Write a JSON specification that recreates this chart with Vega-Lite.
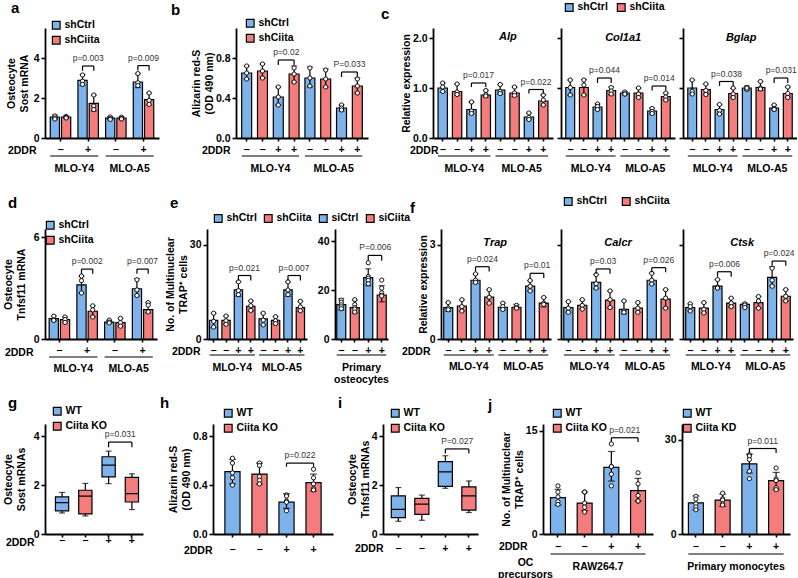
{
  "$schema": "https://vega.github.io/schema/vega-lite/v6.json",
  "padding": {"left": 3, "top": 1, "right": 0, "bottom": 0},
  "autosize": {"type": "pad"},
  "config": {
    "font": "Liberation Sans",
    "view": {"stroke": null},
    "bar": {"stroke": "black", "strokeWidth": 1.2},
    "rule": {"color": "black", "strokeWidth": 1.2},
    "tick": {"color": "black", "thickness": 1.2},
    "line": {"color": "black", "strokeWidth": 1.2},
    "text": {"font": "Liberation Sans", "color": "black"},
    "axis": {"domainColor": "black", "domainWidth": 1.8, "tickColor": "black", "tickWidth": 1.6, "tickSize": 4, "labelColor": "black", "labelFont": "Liberation Sans", "labelFontWeight": "bold", "labelFontSize": 10.5, "labelPadding": 2, "titleColor": "black", "titleFont": "Liberation Sans", "titleFontWeight": "bold", "titleFontSize": 10.5, "titleLineHeight": 12.5, "grid": false, "labelAngle": 0},
    "axisX": {"tickSize": 3},
    "legend": {"symbolType": "square", "symbolSize": 60, "symbolStrokeColor": "black", "symbolStrokeWidth": 1.2, "labelFont": "Liberation Sans", "labelFontWeight": "bold", "labelFontSize": 10.5, "labelColor": "black", "rowPadding": 1, "columnPadding": 8, "padding": 0, "labelOffset": 3},
    "title": {"font": "Liberation Sans", "fontSize": 15, "fontWeight": "bold", "color": "black", "anchor": "start", "frame": "group", "baseline": "alphabetic", "offset": 0}
  },
  "datasets": {
    "a_bar": [
      {"c": 1, "g": "shCtrl", "m": 1.05, "lo": 0.95, "hi": 1.15}, {"c": 1, "g": "shCiita", "m": 1.05, "lo": 1.0, "hi": 1.1},
      {"c": 2, "g": "shCtrl", "m": 2.88, "lo": 2.62, "hi": 3.16}, {"c": 2, "g": "shCiita", "m": 1.73, "lo": 1.35, "hi": 2.15},
      {"c": 3, "g": "shCtrl", "m": 0.99, "lo": 0.92, "hi": 1.07}, {"c": 3, "g": "shCiita", "m": 1.0, "lo": 0.94, "hi": 1.06},
      {"c": 4, "g": "shCtrl", "m": 2.8, "lo": 2.52, "hi": 3.22}, {"c": 4, "g": "shCiita", "m": 1.92, "lo": 1.66, "hi": 2.25}
    ],
    "a_pt": [
      {"c": 1, "g": "shCtrl", "v": 1.1}, {"c": 1, "g": "shCtrl", "v": 1.0}, {"c": 1, "g": "shCtrl", "v": 0.95},
      {"c": 1, "g": "shCiita", "v": 1.08}, {"c": 1, "g": "shCiita", "v": 1.02}, {"c": 1, "g": "shCiita", "v": 1.0},
      {"c": 2, "g": "shCtrl", "v": 3.15}, {"c": 2, "g": "shCtrl", "v": 2.84}, {"c": 2, "g": "shCtrl", "v": 2.68},
      {"c": 2, "g": "shCiita", "v": 2.15}, {"c": 2, "g": "shCiita", "v": 1.6}, {"c": 2, "g": "shCiita", "v": 1.42},
      {"c": 3, "g": "shCtrl", "v": 1.05}, {"c": 3, "g": "shCtrl", "v": 0.97}, {"c": 3, "g": "shCtrl", "v": 0.93},
      {"c": 3, "g": "shCiita", "v": 1.04}, {"c": 3, "g": "shCiita", "v": 0.97}, {"c": 3, "g": "shCiita", "v": 0.95},
      {"c": 4, "g": "shCtrl", "v": 3.22}, {"c": 4, "g": "shCtrl", "v": 2.76}, {"c": 4, "g": "shCtrl", "v": 2.62},
      {"c": 4, "g": "shCiita", "v": 2.25}, {"c": 4, "g": "shCiita", "v": 1.88}, {"c": 4, "g": "shCiita", "v": 1.68}
    ],
    "a_br": [
      {"c": 2, "g": "shCtrl", "t": 3.6, "b": 3.36, "lab": "p=0.003"}, {"c": 2, "g": "shCiita", "t": 3.6, "b": 3.36},
      {"c": 4, "g": "shCtrl", "t": 3.62, "b": 3.38, "lab": "p=0.009"}, {"c": 4, "g": "shCiita", "t": 3.62, "b": 3.38}
    ],
    "b_bar": [
      {"id": 1, "g": "shCtrl", "m": 0.65, "lo": 0.59, "hi": 0.72}, {"id": 2, "g": "shCiita", "m": 0.67, "lo": 0.6, "hi": 0.74},
      {"id": 3, "g": "shCtrl", "m": 0.41, "lo": 0.33, "hi": 0.51}, {"id": 4, "g": "shCiita", "m": 0.64, "lo": 0.56, "hi": 0.72},
      {"id": 5, "g": "shCtrl", "m": 0.6, "lo": 0.51, "hi": 0.71}, {"id": 6, "g": "shCiita", "m": 0.59, "lo": 0.51, "hi": 0.69},
      {"id": 7, "g": "shCtrl", "m": 0.3, "lo": 0.27, "hi": 0.33}, {"id": 8, "g": "shCiita", "m": 0.52, "lo": 0.45, "hi": 0.6}
    ],
    "b_pt": [
      {"id": 1, "v": 0.72}, {"id": 1, "v": 0.65}, {"id": 1, "v": 0.59}, {"id": 2, "v": 0.74}, {"id": 2, "v": 0.67}, {"id": 2, "v": 0.6},
      {"id": 3, "v": 0.51}, {"id": 3, "v": 0.41}, {"id": 3, "v": 0.33}, {"id": 4, "v": 0.7}, {"id": 4, "v": 0.64}, {"id": 4, "v": 0.56},
      {"id": 5, "v": 0.7}, {"id": 5, "v": 0.6}, {"id": 5, "v": 0.52}, {"id": 6, "v": 0.68}, {"id": 6, "v": 0.59}, {"id": 6, "v": 0.51},
      {"id": 7, "v": 0.33}, {"id": 7, "v": 0.3}, {"id": 7, "v": 0.28}, {"id": 8, "v": 0.59}, {"id": 8, "v": 0.52}, {"id": 8, "v": 0.45}
    ],
    "b_br": [
      {"id": 3, "k": 1, "t": 0.78, "b": 0.73, "lab": "p=0.02"}, {"id": 4, "k": 1, "t": 0.78, "b": 0.73},
      {"id": 7, "k": 2, "t": 0.66, "b": 0.61, "lab": "P=0.033"}, {"id": 8, "k": 2, "t": 0.66, "b": 0.61}
    ],
    "c1_bar": [
      {"id": 1, "g": "shCtrl", "m": 1.0, "lo": 0.92, "hi": 1.1}, {"id": 2, "g": "shCiita", "m": 0.93, "lo": 0.86, "hi": 1.08},
      {"id": 3, "g": "shCtrl", "m": 0.57, "lo": 0.48, "hi": 0.72}, {"id": 4, "g": "shCiita", "m": 0.86, "lo": 0.82, "hi": 0.95},
      {"id": 5, "g": "shCtrl", "m": 0.96, "lo": 0.88, "hi": 1.07}, {"id": 6, "g": "shCiita", "m": 0.9, "lo": 0.83, "hi": 1.02},
      {"id": 7, "g": "shCtrl", "m": 0.42, "lo": 0.37, "hi": 0.5}, {"id": 8, "g": "shCiita", "m": 0.74, "lo": 0.65, "hi": 0.86}
    ],
    "c1_pt": [
      {"id": 1, "v": 1.1}, {"id": 1, "v": 1.02}, {"id": 1, "v": 0.93}, {"id": 2, "v": 1.08}, {"id": 2, "v": 0.92}, {"id": 2, "v": 0.87},
      {"id": 3, "v": 0.72}, {"id": 3, "v": 0.54}, {"id": 3, "v": 0.49}, {"id": 4, "v": 0.95}, {"id": 4, "v": 0.87}, {"id": 4, "v": 0.84},
      {"id": 5, "v": 1.07}, {"id": 5, "v": 0.93}, {"id": 5, "v": 0.89}, {"id": 6, "v": 1.02}, {"id": 6, "v": 0.9}, {"id": 6, "v": 0.85},
      {"id": 7, "v": 0.5}, {"id": 7, "v": 0.41}, {"id": 7, "v": 0.37}, {"id": 8, "v": 0.86}, {"id": 8, "v": 0.76}, {"id": 8, "v": 0.66}
    ],
    "c1_br": [
      {"id": 3, "k": 1, "t": 1.1, "b": 1.02, "lab": "p=0.017"}, {"id": 4, "k": 1, "t": 1.1, "b": 1.02},
      {"id": 7, "k": 2, "t": 0.97, "b": 0.89, "lab": "p=0.022"}, {"id": 8, "k": 2, "t": 0.97, "b": 0.89}
    ],
    "c2_bar": [
      {"id": 1, "g": "shCtrl", "m": 1.01, "lo": 0.86, "hi": 1.16}, {"id": 2, "g": "shCiita", "m": 1.01, "lo": 0.86, "hi": 1.17},
      {"id": 3, "g": "shCtrl", "m": 0.62, "lo": 0.57, "hi": 0.68}, {"id": 4, "g": "shCiita", "m": 0.95, "lo": 0.86, "hi": 1.02},
      {"id": 5, "g": "shCtrl", "m": 0.9, "lo": 0.87, "hi": 0.93}, {"id": 6, "g": "shCiita", "m": 0.9, "lo": 0.81, "hi": 1.0},
      {"id": 7, "g": "shCtrl", "m": 0.54, "lo": 0.48, "hi": 0.6}, {"id": 8, "g": "shCiita", "m": 0.83, "lo": 0.76, "hi": 0.9}
    ],
    "c2_pt": [
      {"id": 1, "v": 1.16}, {"id": 1, "v": 1.01}, {"id": 1, "v": 0.86}, {"id": 2, "v": 1.16}, {"id": 2, "v": 1.06}, {"id": 2, "v": 0.86},
      {"id": 3, "v": 0.68}, {"id": 3, "v": 0.63}, {"id": 3, "v": 0.57}, {"id": 4, "v": 1.01}, {"id": 4, "v": 0.94}, {"id": 4, "v": 0.88},
      {"id": 5, "v": 0.92}, {"id": 5, "v": 0.88}, {"id": 5, "v": 0.88}, {"id": 6, "v": 1.0}, {"id": 6, "v": 0.88}, {"id": 6, "v": 0.81},
      {"id": 7, "v": 0.59}, {"id": 7, "v": 0.53}, {"id": 7, "v": 0.49}, {"id": 8, "v": 0.9}, {"id": 8, "v": 0.82}, {"id": 8, "v": 0.76}
    ],
    "c2_br": [
      {"id": 3, "k": 1, "t": 1.2, "b": 1.1, "lab": "p=0.044"}, {"id": 4, "k": 1, "t": 1.2, "b": 1.1},
      {"id": 7, "k": 2, "t": 1.04, "b": 0.95, "lab": "p=0.014"}, {"id": 8, "k": 2, "t": 1.04, "b": 0.95}
    ],
    "c3_bar": [
      {"id": 1, "g": "shCtrl", "m": 1.0, "lo": 0.88, "hi": 1.16}, {"id": 2, "g": "shCiita", "m": 0.97, "lo": 0.88, "hi": 1.08},
      {"id": 3, "g": "shCtrl", "m": 0.57, "lo": 0.48, "hi": 0.67}, {"id": 4, "g": "shCiita", "m": 0.89, "lo": 0.81, "hi": 0.99},
      {"id": 5, "g": "shCtrl", "m": 1.0, "lo": 0.96, "hi": 1.04}, {"id": 6, "g": "shCiita", "m": 1.01, "lo": 0.95, "hi": 1.13},
      {"id": 7, "g": "shCtrl", "m": 0.6, "lo": 0.56, "hi": 0.66}, {"id": 8, "g": "shCiita", "m": 0.89, "lo": 0.81, "hi": 1.02}
    ],
    "c3_pt": [
      {"id": 1, "v": 1.16}, {"id": 1, "v": 0.93}, {"id": 1, "v": 0.88}, {"id": 2, "v": 1.08}, {"id": 2, "v": 0.95}, {"id": 2, "v": 0.87},
      {"id": 3, "v": 0.67}, {"id": 3, "v": 0.55}, {"id": 3, "v": 0.48}, {"id": 4, "v": 1.0}, {"id": 4, "v": 0.88}, {"id": 4, "v": 0.81},
      {"id": 5, "v": 1.01}, {"id": 5, "v": 0.97}, {"id": 5, "v": 1.0}, {"id": 6, "v": 1.13}, {"id": 6, "v": 1.0}, {"id": 6, "v": 0.98},
      {"id": 7, "v": 0.66}, {"id": 7, "v": 0.59}, {"id": 7, "v": 0.57}, {"id": 8, "v": 1.02}, {"id": 8, "v": 0.89}, {"id": 8, "v": 0.81}
    ],
    "c3_br": [
      {"id": 3, "k": 1, "t": 1.13, "b": 1.04, "lab": "p=0.038"}, {"id": 4, "k": 1, "t": 1.13, "b": 1.04},
      {"id": 7, "k": 2, "t": 1.2, "b": 1.1, "lab": "p=0.031"}, {"id": 8, "k": 2, "t": 1.2, "b": 1.1}
    ],
    "d_bar": [
      {"c": 1, "g": "shCtrl", "m": 1.2, "lo": 1.08, "hi": 1.35}, {"c": 1, "g": "shCiita", "m": 1.14, "lo": 0.98, "hi": 1.3},
      {"c": 2, "g": "shCtrl", "m": 3.2, "lo": 2.72, "hi": 3.72}, {"c": 2, "g": "shCiita", "m": 1.64, "lo": 1.32, "hi": 1.96},
      {"c": 3, "g": "shCtrl", "m": 1.0, "lo": 0.92, "hi": 1.1}, {"c": 3, "g": "shCiita", "m": 0.97, "lo": 0.74, "hi": 1.22},
      {"c": 4, "g": "shCtrl", "m": 2.97, "lo": 2.55, "hi": 3.55}, {"c": 4, "g": "shCiita", "m": 1.73, "lo": 1.55, "hi": 2.15}
    ],
    "d_pt": [
      {"c": 1, "g": "shCtrl", "v": 1.35}, {"c": 1, "g": "shCtrl", "v": 1.12}, {"c": 1, "g": "shCtrl", "v": 1.1},
      {"c": 1, "g": "shCiita", "v": 1.3}, {"c": 1, "g": "shCiita", "v": 1.15}, {"c": 1, "g": "shCiita", "v": 0.98},
      {"c": 2, "g": "shCtrl", "v": 3.72}, {"c": 2, "g": "shCtrl", "v": 3.45}, {"c": 2, "g": "shCtrl", "v": 2.72},
      {"c": 2, "g": "shCiita", "v": 1.96}, {"c": 2, "g": "shCiita", "v": 1.72}, {"c": 2, "g": "shCiita", "v": 1.3},
      {"c": 3, "g": "shCtrl", "v": 1.12}, {"c": 3, "g": "shCtrl", "v": 1.0}, {"c": 3, "g": "shCtrl", "v": 0.95},
      {"c": 3, "g": "shCiita", "v": 1.22}, {"c": 3, "g": "shCiita", "v": 0.97}, {"c": 3, "g": "shCiita", "v": 0.76},
      {"c": 4, "g": "shCtrl", "v": 3.5}, {"c": 4, "g": "shCtrl", "v": 2.9}, {"c": 4, "g": "shCtrl", "v": 2.57},
      {"c": 4, "g": "shCiita", "v": 2.15}, {"c": 4, "g": "shCiita", "v": 2.0}, {"c": 4, "g": "shCiita", "v": 1.6}
    ],
    "d_br": [
      {"c": 2, "g": "shCtrl", "t": 4.13, "b": 3.85, "lab": "p=0.002"}, {"c": 2, "g": "shCiita", "t": 4.13, "b": 3.85},
      {"c": 4, "g": "shCtrl", "t": 4.13, "b": 3.85, "lab": "p=0.007"}, {"c": 4, "g": "shCiita", "t": 4.13, "b": 3.85}
    ],
    "e1_bar": [
      {"id": 1, "g": "shCtrl", "m": 5.9, "lo": 3.6, "hi": 8.2}, {"id": 2, "g": "shCiita", "m": 5.9, "lo": 4.7, "hi": 7.3},
      {"id": 3, "g": "shCtrl", "m": 15.6, "lo": 13.6, "hi": 18.2}, {"id": 4, "g": "shCiita", "m": 10.4, "lo": 8.9, "hi": 12.1},
      {"id": 5, "g": "shCtrl", "m": 6.4, "lo": 4.5, "hi": 8.2}, {"id": 6, "g": "shCiita", "m": 5.9, "lo": 4.8, "hi": 7.1},
      {"id": 7, "g": "shCtrl", "m": 15.6, "lo": 13.6, "hi": 18.2}, {"id": 8, "g": "shCiita", "m": 10.0, "lo": 8.8, "hi": 12.0}
    ],
    "e1_pt": [
      {"id": 1, "v": 8.2}, {"id": 1, "v": 5.6}, {"id": 1, "v": 3.8}, {"id": 2, "v": 7.3}, {"id": 2, "v": 5.8}, {"id": 2, "v": 4.7},
      {"id": 3, "v": 18.2}, {"id": 3, "v": 15.4}, {"id": 3, "v": 14.1}, {"id": 4, "v": 12.1}, {"id": 4, "v": 10.6}, {"id": 4, "v": 9.1},
      {"id": 5, "v": 8.2}, {"id": 5, "v": 6.0}, {"id": 5, "v": 4.5}, {"id": 6, "v": 7.1}, {"id": 6, "v": 5.8}, {"id": 6, "v": 4.9},
      {"id": 7, "v": 18.2}, {"id": 7, "v": 15.6}, {"id": 7, "v": 14.1}, {"id": 8, "v": 12.0}, {"id": 8, "v": 10.2}, {"id": 8, "v": 9.0}
    ],
    "e1_br": [
      {"id": 3, "k": 1, "t": 20.2, "b": 18.6, "lab": "p=0.021"}, {"id": 4, "k": 1, "t": 20.2, "b": 18.6},
      {"id": 7, "k": 2, "t": 20.2, "b": 18.6, "lab": "p=0.007"}, {"id": 8, "k": 2, "t": 20.2, "b": 18.6}
    ],
    "e2_bar": [
      {"id": 1, "g": "siCtrl", "m": 14.1, "lo": 11.8, "hi": 16.5}, {"id": 2, "g": "siCiita", "m": 12.8, "lo": 10.6, "hi": 15.9},
      {"id": 3, "g": "siCtrl", "m": 25.1, "lo": 21.8, "hi": 28.7}, {"id": 4, "g": "siCiita", "m": 18.0, "lo": 15.2, "hi": 21.8}
    ],
    "e2_pt": [
      {"id": 1, "v": 15.9}, {"id": 1, "v": 15.0}, {"id": 1, "v": 14.0}, {"id": 1, "v": 13.2}, {"id": 1, "v": 12.4},
      {"id": 2, "v": 16.1}, {"id": 2, "v": 14.1}, {"id": 2, "v": 12.8}, {"id": 2, "v": 12.2}, {"id": 2, "v": 11.0},
      {"id": 3, "v": 31.2}, {"id": 3, "v": 25.6}, {"id": 3, "v": 24.9}, {"id": 3, "v": 24.0}, {"id": 3, "v": 22.6},
      {"id": 4, "v": 24.1}, {"id": 4, "v": 20.8}, {"id": 4, "v": 18.9}, {"id": 4, "v": 17.9}, {"id": 4, "v": 17.6}
    ],
    "e2_br": [
      {"id": 3, "k": 1, "t": 34.2, "b": 32.0, "lab": "P=0.006"}, {"id": 4, "k": 1, "t": 34.2, "b": 32.0}
    ],
    "f1_bar": [
      {"id": 1, "g": "shCtrl", "m": 1.0, "lo": 0.88, "hi": 1.16}, {"id": 2, "g": "shCiita", "m": 1.05, "lo": 0.89, "hi": 1.25},
      {"id": 3, "g": "shCtrl", "m": 1.87, "lo": 1.77, "hi": 2.07}, {"id": 4, "g": "shCiita", "m": 1.33, "lo": 1.12, "hi": 1.57},
      {"id": 5, "g": "shCtrl", "m": 1.01, "lo": 0.93, "hi": 1.14}, {"id": 6, "g": "shCiita", "m": 1.01, "lo": 0.95, "hi": 1.1},
      {"id": 7, "g": "shCtrl", "m": 1.68, "lo": 1.53, "hi": 1.86}, {"id": 8, "g": "shCiita", "m": 1.14, "lo": 1.02, "hi": 1.32}
    ],
    "f1_pt": [
      {"id": 1, "v": 1.16}, {"id": 1, "v": 0.98}, {"id": 1, "v": 0.93}, {"id": 2, "v": 1.25}, {"id": 2, "v": 1.03}, {"id": 2, "v": 0.89},
      {"id": 3, "v": 2.07}, {"id": 3, "v": 1.87}, {"id": 3, "v": 1.8}, {"id": 4, "v": 1.57}, {"id": 4, "v": 1.33}, {"id": 4, "v": 1.14},
      {"id": 5, "v": 1.14}, {"id": 5, "v": 1.03}, {"id": 5, "v": 0.94}, {"id": 6, "v": 1.07}, {"id": 6, "v": 1.0}, {"id": 6, "v": 0.98},
      {"id": 7, "v": 1.86}, {"id": 7, "v": 1.68}, {"id": 7, "v": 1.53}, {"id": 8, "v": 1.32}, {"id": 8, "v": 1.14}, {"id": 8, "v": 1.1}
    ],
    "f1_br": [
      {"id": 3, "k": 1, "t": 2.3, "b": 2.15, "lab": "p=0.024"}, {"id": 4, "k": 1, "t": 2.3, "b": 2.15},
      {"id": 7, "k": 2, "t": 2.09, "b": 1.94, "lab": "p=0.01"}, {"id": 8, "k": 2, "t": 2.09, "b": 1.94}
    ],
    "f2_bar": [
      {"id": 1, "g": "shCtrl", "m": 1.0, "lo": 0.85, "hi": 1.19}, {"id": 2, "g": "shCiita", "m": 1.07, "lo": 0.95, "hi": 1.25},
      {"id": 3, "g": "shCtrl", "m": 1.8, "lo": 1.6, "hi": 2.05}, {"id": 4, "g": "shCiita", "m": 1.24, "lo": 0.99, "hi": 1.53},
      {"id": 5, "g": "shCtrl", "m": 0.94, "lo": 0.8, "hi": 1.21}, {"id": 6, "g": "shCiita", "m": 0.98, "lo": 0.85, "hi": 1.16},
      {"id": 7, "g": "shCtrl", "m": 1.87, "lo": 1.74, "hi": 2.09}, {"id": 8, "g": "shCiita", "m": 1.27, "lo": 0.98, "hi": 1.57}
    ],
    "f2_pt": [
      {"id": 1, "v": 1.19}, {"id": 1, "v": 0.98}, {"id": 1, "v": 0.85}, {"id": 2, "v": 1.25}, {"id": 2, "v": 1.07}, {"id": 2, "v": 0.95},
      {"id": 3, "v": 2.05}, {"id": 3, "v": 1.76}, {"id": 3, "v": 1.62}, {"id": 4, "v": 1.53}, {"id": 4, "v": 1.25}, {"id": 4, "v": 1.0},
      {"id": 5, "v": 1.21}, {"id": 5, "v": 0.89}, {"id": 5, "v": 0.85}, {"id": 6, "v": 1.16}, {"id": 6, "v": 0.98}, {"id": 6, "v": 0.85},
      {"id": 7, "v": 2.09}, {"id": 7, "v": 1.87}, {"id": 7, "v": 1.75}, {"id": 8, "v": 1.57}, {"id": 8, "v": 1.3}, {"id": 8, "v": 0.98}
    ],
    "f2_br": [
      {"id": 3, "k": 1, "t": 2.23, "b": 2.08, "lab": "p=0.03"}, {"id": 4, "k": 1, "t": 2.23, "b": 2.08},
      {"id": 7, "k": 2, "t": 2.27, "b": 2.12, "lab": "p=0.026"}, {"id": 8, "k": 2, "t": 2.27, "b": 2.12}
    ],
    "f3_bar": [
      {"id": 1, "g": "shCtrl", "m": 1.0, "lo": 0.9, "hi": 1.12}, {"id": 2, "g": "shCiita", "m": 0.98, "lo": 0.83, "hi": 1.16},
      {"id": 3, "g": "shCtrl", "m": 1.68, "lo": 1.6, "hi": 1.89}, {"id": 4, "g": "shCiita", "m": 1.14, "lo": 1.02, "hi": 1.3},
      {"id": 5, "g": "shCtrl", "m": 1.1, "lo": 1.01, "hi": 1.14}, {"id": 6, "g": "shCiita", "m": 1.16, "lo": 0.98, "hi": 1.35},
      {"id": 7, "g": "shCtrl", "m": 1.96, "lo": 1.68, "hi": 2.3}, {"id": 8, "g": "shCiita", "m": 1.36, "lo": 1.21, "hi": 1.57}
    ],
    "f3_pt": [
      {"id": 1, "v": 1.12}, {"id": 1, "v": 1.03}, {"id": 1, "v": 0.89}, {"id": 2, "v": 1.16}, {"id": 2, "v": 0.94}, {"id": 2, "v": 0.83},
      {"id": 3, "v": 1.89}, {"id": 3, "v": 1.65}, {"id": 3, "v": 1.62}, {"id": 4, "v": 1.3}, {"id": 4, "v": 1.14}, {"id": 4, "v": 1.03},
      {"id": 5, "v": 1.12}, {"id": 5, "v": 1.08}, {"id": 5, "v": 1.0}, {"id": 6, "v": 1.35}, {"id": 6, "v": 1.21}, {"id": 6, "v": 0.98},
      {"id": 7, "v": 2.25}, {"id": 7, "v": 1.87}, {"id": 7, "v": 1.68}, {"id": 8, "v": 1.57}, {"id": 8, "v": 1.36}, {"id": 8, "v": 1.21}
    ],
    "f3_br": [
      {"id": 3, "k": 1, "t": 2.14, "b": 1.98, "lab": "p=0.006"}, {"id": 4, "k": 1, "t": 2.14, "b": 1.98},
      {"id": 7, "k": 2, "t": 2.48, "b": 2.33, "lab": "p=0.024"}, {"id": 8, "k": 2, "t": 2.48, "b": 2.33}
    ],
    "g_box": [
      {"id": 1, "g": "WT", "mn": 0.86, "q1": 0.95, "md": 1.28, "q3": 1.52, "mx": 1.7},
      {"id": 2, "g": "Ciita KO", "mn": 0.74, "q1": 0.82, "md": 1.55, "q3": 1.79, "mx": 2.07},
      {"id": 3, "g": "WT", "mn": 2.06, "q1": 2.34, "md": 2.82, "q3": 3.16, "mx": 3.39},
      {"id": 4, "g": "Ciita KO", "mn": 1.0, "q1": 1.31, "md": 1.65, "q3": 2.32, "mx": 2.46}
    ],
    "g_br": [{"id": 3, "k": 1, "t": 3.76, "b": 3.55, "lab": "p=0.031"}, {"id": 4, "k": 1, "t": 3.76, "b": 3.55}],
    "h_bar": [
      {"id": 1, "g": "WT", "m": 0.51, "lo": 0.41, "hi": 0.61}, {"id": 2, "g": "Ciita KO", "m": 0.49, "lo": 0.41, "hi": 0.58},
      {"id": 3, "g": "WT", "m": 0.26, "lo": 0.21, "hi": 0.33}, {"id": 4, "g": "Ciita KO", "m": 0.42, "lo": 0.35, "hi": 0.49}
    ],
    "h_pt": [
      {"id": 1, "v": 0.62}, {"id": 1, "v": 0.58}, {"id": 1, "v": 0.5}, {"id": 1, "v": 0.46}, {"id": 1, "v": 0.4},
      {"id": 2, "v": 0.58}, {"id": 2, "v": 0.56}, {"id": 2, "v": 0.47}, {"id": 2, "v": 0.44}, {"id": 2, "v": 0.41},
      {"id": 3, "v": 0.32}, {"id": 3, "v": 0.31}, {"id": 3, "v": 0.27}, {"id": 3, "v": 0.26}, {"id": 3, "v": 0.19},
      {"id": 4, "v": 0.53}, {"id": 4, "v": 0.46}, {"id": 4, "v": 0.41}, {"id": 4, "v": 0.37}, {"id": 4, "v": 0.36}
    ],
    "h_br": [{"id": 3, "k": 1, "t": 0.58, "b": 0.55, "lab": "p=0.022"}, {"id": 4, "k": 1, "t": 0.58, "b": 0.55}],
    "i_box": [
      {"id": 1, "g": "WT", "mn": 0.52, "q1": 0.67, "md": 1.01, "q3": 1.56, "mx": 1.9},
      {"id": 2, "g": "Ciita KO", "mn": 0.56, "q1": 0.8, "md": 1.22, "q3": 1.46, "mx": 1.59},
      {"id": 3, "g": "WT", "mn": 1.87, "q1": 1.95, "md": 2.54, "q3": 2.96, "mx": 3.2},
      {"id": 4, "g": "Ciita KO", "mn": 0.88, "q1": 0.98, "md": 1.56, "q3": 1.93, "mx": 2.17}
    ],
    "i_br": [{"id": 3, "k": 1, "t": 3.48, "b": 3.29, "lab": "P=0.027"}, {"id": 4, "k": 1, "t": 3.48, "b": 3.29}],
    "j1_bar": [
      {"id": 1, "g": "WT", "m": 5.3, "lo": 4.2, "hi": 6.5}, {"id": 2, "g": "Ciita KO", "m": 4.5, "lo": 3.4, "hi": 6.1},
      {"id": 3, "g": "WT", "m": 9.7, "lo": 7.7, "hi": 12.0}, {"id": 4, "g": "Ciita KO", "m": 6.3, "lo": 4.8, "hi": 8.1}
    ],
    "j1_pt": [
      {"id": 1, "v": 7.0}, {"id": 1, "v": 6.1}, {"id": 1, "v": 5.4}, {"id": 1, "v": 4.7}, {"id": 1, "v": 4.3},
      {"id": 2, "v": 6.1}, {"id": 2, "v": 6.1}, {"id": 2, "v": 4.5}, {"id": 2, "v": 3.9}, {"id": 2, "v": 3.2},
      {"id": 3, "v": 13.1}, {"id": 3, "v": 9.8}, {"id": 3, "v": 9.8}, {"id": 3, "v": 8.7}, {"id": 3, "v": 7.0},
      {"id": 4, "v": 8.9}, {"id": 4, "v": 7.3}, {"id": 4, "v": 5.6}, {"id": 4, "v": 4.8}, {"id": 4, "v": 4.8}
    ],
    "j1_br": [{"id": 3, "k": 1, "t": 14.0, "b": 13.4, "lab": "p=0.021"}, {"id": 4, "k": 1, "t": 14.0, "b": 13.4}],
    "j2_bar": [
      {"id": 1, "g": "WT", "m": 9.9, "lo": 7.7, "hi": 12.1}, {"id": 2, "g": "Ciita KD", "m": 10.8, "lo": 8.8, "hi": 12.7},
      {"id": 3, "g": "WT", "m": 22.3, "lo": 19.4, "hi": 25.4}, {"id": 4, "g": "Ciita KD", "m": 17.0, "lo": 14.1, "hi": 19.6}
    ],
    "j2_pt": [
      {"id": 1, "v": 12.0}, {"id": 1, "v": 11.1}, {"id": 1, "v": 9.6}, {"id": 1, "v": 8.6}, {"id": 1, "v": 7.7},
      {"id": 2, "v": 13.0}, {"id": 2, "v": 11.2}, {"id": 2, "v": 10.8}, {"id": 2, "v": 9.6}, {"id": 2, "v": 9.2},
      {"id": 3, "v": 25.2}, {"id": 3, "v": 24.8}, {"id": 3, "v": 23.7}, {"id": 3, "v": 20.0}, {"id": 3, "v": 17.6},
      {"id": 4, "v": 21.0}, {"id": 4, "v": 17.5}, {"id": 4, "v": 17.0}, {"id": 4, "v": 14.7}, {"id": 4, "v": 14.1}
    ],
    "j2_br": [{"id": 3, "k": 1, "t": 27.2, "b": 25.8, "lab": "p=0.011"}, {"id": 4, "k": 1, "t": 27.2, "b": 25.8}]
  },
  "spacing": 10,
  "resolve": {"scale": {"fill": "independent"}, "legend": {"fill": "independent"}},
  "vconcat": [
    {
      "spacing": 22,
      "resolve": {"scale": {"fill": "independent"}, "legend": {"fill": "independent"}},
      "vconcat": [
        {
          "bounds": "flush",
          "spacing": 0,
          "resolve": {"scale": {"fill": "independent"}, "legend": {"fill": "independent"}},
          "hconcat": [
            {
              "width": 191, "height": 110,
              "title": {"text": "a", "offset": 4, "dx": -34},
              "layer": [
                {"layer": [
                  {"data": {"name": "a_bar"}, "mark": "bar", "encoding": {
                    "x": {"field": "c", "type": "ordinal", "scale": {"range": [0, 114], "paddingInner": 0.26, "paddingOuter": 0.19}, "axis": {"title": "2DDR", "titleX": -9, "titleY": 12, "titleAlign": "right", "titleBaseline": "middle", "labelBaseline": "middle", "labelPadding": 8, "labelExpr": "datum.value % 2 == 1 ? '−' : '+'"}},
                    "xOffset": {"field": "g", "type": "nominal", "scale": {"domain": ["shCtrl", "shCiita"], "paddingInner": 0.18}},
                    "y": {"field": "m", "type": "quantitative", "scale": {"domain": [0, 5.2]}, "axis": {"values": [0, 1, 2, 3, 4, 5], "title": ["Osteocyte", "Sost mRNA"], "titlePadding": 3.8}},
                    "fill": {"field": "g", "type": "nominal", "scale": {"domain": ["shCtrl", "shCiita"], "range": ["#7db3ea", "#f37c7c"]}, "legend": {"title": null, "orient": "none", "legendX": 6, "legendY": -8}}}},
                  {"data": {"name": "a_bar"}, "mark": "rule", "encoding": {"x": {"field": "c", "type": "ordinal"}, "xOffset": {"field": "g", "type": "nominal"}, "y": {"field": "lo", "type": "quantitative"}, "y2": {"field": "hi"}}},
                  {"data": {"name": "a_bar"}, "mark": {"type": "tick", "size": 6}, "encoding": {"x": {"field": "c", "type": "ordinal"}, "xOffset": {"field": "g", "type": "nominal"}, "y": {"field": "hi", "type": "quantitative"}}},
                  {"data": {"name": "a_bar"}, "mark": {"type": "tick", "size": 6}, "encoding": {"x": {"field": "c", "type": "ordinal"}, "xOffset": {"field": "g", "type": "nominal"}, "y": {"field": "lo", "type": "quantitative"}}},
                  {"data": {"name": "a_pt"}, "mark": {"type": "point", "filled": true, "fill": "white", "stroke": "black", "strokeWidth": 0.9, "size": 18, "opacity": 1}, "encoding": {"x": {"field": "c", "type": "ordinal"}, "xOffset": {"field": "g", "type": "nominal"}, "y": {"field": "v", "type": "quantitative"}}},
                  {"data": {"name": "a_br"}, "mark": "rule", "encoding": {"x": {"field": "c", "type": "ordinal"}, "xOffset": {"field": "g", "type": "nominal"}, "y": {"field": "b", "type": "quantitative"}, "y2": {"field": "t"}}},
                  {"data": {"name": "a_br"}, "mark": "line", "encoding": {"x": {"field": "c", "type": "ordinal"}, "xOffset": {"field": "g", "type": "nominal"}, "y": {"field": "t", "type": "quantitative"}, "detail": {"field": "c", "type": "ordinal"}}},
                  {"data": {"name": "a_br"}, "transform": [{"filter": "datum.lab"}], "mark": {"type": "text", "dy": -3, "baseline": "bottom", "fontSize": 8.5, "color": "#333"}, "encoding": {"x": {"field": "c", "type": "ordinal"}, "y": {"field": "t", "type": "quantitative"}, "text": {"field": "lab"}}}
                ]},
                {"data": {"values": [{"grp": "MLO-Y4"}, {"grp": "MLO-A5"}]}, "layer": [
                  {"mark": {"type": "bar", "color": "black", "yOffset": 18, "y2Offset": 18}, "encoding": {"x": {"field": "grp", "type": "nominal", "sort": ["MLO-Y4", "MLO-A5"], "scale": {"range": [0, 114], "paddingInner": 0.13, "paddingOuter": 0.095}, "axis": null}, "y": {"datum": 0}, "y2": {"datum": 0}}},
                  {"mark": {"type": "text", "fontWeight": "bold", "fontSize": 10.5, "yOffset": 30.5, "baseline": "middle"}, "encoding": {"x": {"field": "grp", "type": "nominal", "sort": ["MLO-Y4", "MLO-A5"], "scale": {"range": [0, 114], "paddingInner": 0.13, "paddingOuter": 0.095}, "axis": null}, "y": {"datum": 0}, "text": {"field": "grp"}}}
                ]}
              ],
              "resolve": {"scale": {"x": "independent"}}
            },
            {
              "width": 197, "height": 110,
              "title": {"text": "b", "offset": 0, "dx": -65},
              "layer": [
                {"layer": [
                  {"data": {"name": "b_bar"}, "mark": "bar", "encoding": {
                    "x": {"field": "id", "type": "ordinal", "scale": {"range": [0, 132], "paddingInner": 0.37, "paddingOuter": 0.36}, "axis": {"title": "2DDR", "titleX": -6, "titleY": 12, "titleAlign": "right", "titleBaseline": "middle", "labelBaseline": "middle", "labelPadding": 8, "labelExpr": "indexof([1,2,5,6], datum.value) >= 0 ? '−' : '+'"}},
                    "y": {"field": "m", "type": "quantitative", "scale": {"domain": [0, 1.02]}, "axis": {"values": [0, 0.2, 0.4, 0.6, 0.8, 1], "format": ".1f", "title": ["Alizarin red-S", "(OD 490 nm)"], "titlePadding": 1}},
                    "fill": {"field": "g", "type": "nominal", "scale": {"domain": ["shCtrl", "shCiita"], "range": ["#7db3ea", "#f37c7c"]}, "legend": {"title": null, "orient": "none", "legendX": 9, "legendY": -10}}}},
                  {"data": {"name": "b_bar"}, "mark": "rule", "encoding": {"x": {"field": "id", "type": "ordinal"}, "y": {"field": "lo", "type": "quantitative"}, "y2": {"field": "hi"}}},
                  {"data": {"name": "b_bar"}, "mark": {"type": "tick", "size": 6}, "encoding": {"x": {"field": "id", "type": "ordinal"}, "y": {"field": "hi", "type": "quantitative"}}},
                  {"data": {"name": "b_bar"}, "mark": {"type": "tick", "size": 6}, "encoding": {"x": {"field": "id", "type": "ordinal"}, "y": {"field": "lo", "type": "quantitative"}}},
                  {"data": {"name": "b_pt"}, "mark": {"type": "point", "filled": true, "fill": "white", "stroke": "black", "strokeWidth": 0.9, "size": 18, "opacity": 1}, "encoding": {"x": {"field": "id", "type": "ordinal"}, "y": {"field": "v", "type": "quantitative"}}},
                  {"data": {"name": "b_br"}, "mark": "rule", "encoding": {"x": {"field": "id", "type": "ordinal"}, "y": {"field": "b", "type": "quantitative"}, "y2": {"field": "t"}}},
                  {"data": {"name": "b_br"}, "mark": "line", "encoding": {"x": {"field": "id", "type": "ordinal"}, "y": {"field": "t", "type": "quantitative"}, "detail": {"field": "k", "type": "nominal"}}},
                  {"data": {"name": "b_br"}, "transform": [{"filter": "datum.lab"}], "mark": {"type": "text", "dx": 8, "dy": -3, "baseline": "bottom", "fontSize": 8.5, "color": "#333"}, "encoding": {"x": {"field": "id", "type": "ordinal"}, "y": {"field": "t", "type": "quantitative"}, "text": {"field": "lab"}}}
                ]},
                {"data": {"values": [{"grp": "MLO-Y4"}, {"grp": "MLO-A5"}]}, "layer": [
                  {"mark": {"type": "bar", "color": "black", "yOffset": 18, "y2Offset": 18}, "encoding": {"x": {"field": "grp", "type": "nominal", "sort": ["MLO-Y4", "MLO-A5"], "scale": {"range": [0, 132], "paddingInner": 0.0925, "paddingOuter": 0.09}, "axis": null}, "y": {"datum": 0}, "y2": {"datum": 0}}},
                  {"mark": {"type": "text", "fontWeight": "bold", "fontSize": 10.5, "yOffset": 30.5, "baseline": "middle"}, "encoding": {"x": {"field": "grp", "type": "nominal", "sort": ["MLO-Y4", "MLO-A5"], "scale": {"range": [0, 132], "paddingInner": 0.0925, "paddingOuter": 0.09}, "axis": null}, "y": {"datum": 0}, "text": {"field": "grp"}}}
                ]}
              ],
              "resolve": {"scale": {"x": "independent"}}
            },
            {
              "width": 128, "height": 110,
              "title": {"text": "c", "offset": 6, "dx": -52},
              "layer": [
                {"layer": [
                  {"data": {"name": "c1_bar"}, "mark": "bar", "encoding": {
                    "x": {"field": "id", "type": "ordinal", "scale": {"range": [0, 120], "paddingInner": 0.35, "paddingOuter": 0.35}, "axis": {"title": "2DDR", "titleX": 5, "titleY": 12, "titleAlign": "right", "titleBaseline": "middle", "labelBaseline": "middle", "labelPadding": 8, "labelExpr": "indexof([1,2,5,6], datum.value) >= 0 ? '−' : '+'"}},
                    "y": {"field": "m", "type": "quantitative", "scale": {"domain": [0, 2.02]}, "axis": {"values": [0, 0.5, 1, 1.5, 2], "format": ".1f", "title": "Relative expression", "titlePadding": 1}},
                    "fill": {"field": "g", "type": "nominal", "scale": {"domain": ["shCtrl", "shCiita"], "range": ["#7db3ea", "#f37c7c"]}, "legend": null}}},
                  {"data": {"name": "c1_bar"}, "mark": "rule", "encoding": {"x": {"field": "id", "type": "ordinal"}, "y": {"field": "lo", "type": "quantitative"}, "y2": {"field": "hi"}}},
                  {"data": {"name": "c1_bar"}, "mark": {"type": "tick", "size": 6}, "encoding": {"x": {"field": "id", "type": "ordinal"}, "y": {"field": "hi", "type": "quantitative"}}},
                  {"data": {"name": "c1_bar"}, "mark": {"type": "tick", "size": 6}, "encoding": {"x": {"field": "id", "type": "ordinal"}, "y": {"field": "lo", "type": "quantitative"}}},
                  {"data": {"name": "c1_pt"}, "mark": {"type": "point", "filled": true, "fill": "white", "stroke": "black", "strokeWidth": 0.9, "size": 18, "opacity": 1}, "encoding": {"x": {"field": "id", "type": "ordinal"}, "y": {"field": "v", "type": "quantitative"}}},
                  {"data": {"name": "c1_br"}, "mark": "rule", "encoding": {"x": {"field": "id", "type": "ordinal"}, "y": {"field": "b", "type": "quantitative"}, "y2": {"field": "t"}}},
                  {"data": {"name": "c1_br"}, "mark": "line", "encoding": {"x": {"field": "id", "type": "ordinal"}, "y": {"field": "t", "type": "quantitative"}, "detail": {"field": "k", "type": "nominal"}}},
                  {"data": {"name": "c1_br"}, "transform": [{"filter": "datum.lab"}], "mark": {"type": "text", "dx": 7, "dy": -3, "baseline": "bottom", "fontSize": 8.5, "color": "#333"}, "encoding": {"x": {"field": "id", "type": "ordinal"}, "y": {"field": "t", "type": "quantitative"}, "text": {"field": "lab"}}},
                  {"data": {"values": [{"id": 4, "gene": "Alp"}]}, "mark": {"type": "text", "fontStyle": "italic", "fontWeight": "bold", "fontSize": 11, "baseline": "alphabetic", "dx": 22, "dy": 3}, "encoding": {"x": {"field": "id", "type": "ordinal"}, "y": {"datum": 2.02}, "text": {"field": "gene"}}}
                ]},
                {"data": {"values": [{"grp": "MLO-Y4"}, {"grp": "MLO-A5"}]}, "layer": [
                  {"mark": {"type": "bar", "color": "black", "yOffset": 18, "y2Offset": 18}, "encoding": {"x": {"field": "grp", "type": "nominal", "sort": ["MLO-Y4", "MLO-A5"], "scale": {"range": [0, 120], "paddingInner": 0.0875, "paddingOuter": 0.0875}, "axis": null}, "y": {"datum": 0}, "y2": {"datum": 0}}},
                  {"mark": {"type": "text", "fontWeight": "bold", "fontSize": 10.5, "yOffset": 30.5, "baseline": "middle"}, "encoding": {"x": {"field": "grp", "type": "nominal", "sort": ["MLO-Y4", "MLO-A5"], "scale": {"range": [0, 120], "paddingInner": 0.0875, "paddingOuter": 0.0875}, "axis": null}, "y": {"datum": 0}, "text": {"field": "grp"}}}
                ]}
              ],
              "resolve": {"scale": {"x": "independent"}}
            },
            {
              "width": 122, "height": 110,
              "layer": [
                {"layer": [
                  {"data": {"name": "c2_bar"}, "mark": "bar", "encoding": {
                    "x": {"field": "id", "type": "ordinal", "scale": {"range": [0, 114], "paddingInner": 0.35, "paddingOuter": 0.35}, "axis": {"title": null, "labelBaseline": "middle", "labelPadding": 8, "labelExpr": "indexof([1,2,5,6], datum.value) >= 0 ? '−' : '+'"}},
                    "y": {"field": "m", "type": "quantitative", "scale": {"domain": [0, 2.02]}, "axis": {"values": [0, 0.5, 1, 1.5, 2], "labels": false, "title": null}},
                    "fill": {"field": "g", "type": "nominal", "scale": {"domain": ["shCtrl", "shCiita"], "range": ["#7db3ea", "#f37c7c"]}, "legend": {"title": null, "orient": "none", "direction": "horizontal", "columnPadding": 6, "legendX": 3, "legendY": -26}}}},
                  {"data": {"name": "c2_bar"}, "mark": "rule", "encoding": {"x": {"field": "id", "type": "ordinal"}, "y": {"field": "lo", "type": "quantitative"}, "y2": {"field": "hi"}}},
                  {"data": {"name": "c2_bar"}, "mark": {"type": "tick", "size": 6}, "encoding": {"x": {"field": "id", "type": "ordinal"}, "y": {"field": "hi", "type": "quantitative"}}},
                  {"data": {"name": "c2_bar"}, "mark": {"type": "tick", "size": 6}, "encoding": {"x": {"field": "id", "type": "ordinal"}, "y": {"field": "lo", "type": "quantitative"}}},
                  {"data": {"name": "c2_pt"}, "mark": {"type": "point", "filled": true, "fill": "white", "stroke": "black", "strokeWidth": 0.9, "size": 18, "opacity": 1}, "encoding": {"x": {"field": "id", "type": "ordinal"}, "y": {"field": "v", "type": "quantitative"}}},
                  {"data": {"name": "c2_br"}, "mark": "rule", "encoding": {"x": {"field": "id", "type": "ordinal"}, "y": {"field": "b", "type": "quantitative"}, "y2": {"field": "t"}}},
                  {"data": {"name": "c2_br"}, "mark": "line", "encoding": {"x": {"field": "id", "type": "ordinal"}, "y": {"field": "t", "type": "quantitative"}, "detail": {"field": "k", "type": "nominal"}}},
                  {"data": {"name": "c2_br"}, "transform": [{"filter": "datum.lab"}], "mark": {"type": "text", "dx": 7, "dy": -3, "baseline": "bottom", "fontSize": 8.5, "color": "#333"}, "encoding": {"x": {"field": "id", "type": "ordinal"}, "y": {"field": "t", "type": "quantitative"}, "text": {"field": "lab"}}},
                  {"data": {"values": [{"id": 4, "gene": "Col1a1"}]}, "mark": {"type": "text", "fontStyle": "italic", "fontWeight": "bold", "fontSize": 11, "baseline": "alphabetic", "dx": 12, "dy": 4}, "encoding": {"x": {"field": "id", "type": "ordinal"}, "y": {"datum": 2.02}, "text": {"field": "gene"}}}
                ]},
                {"data": {"values": [{"grp": "MLO-Y4"}, {"grp": "MLO-A5"}]}, "layer": [
                  {"mark": {"type": "bar", "color": "black", "yOffset": 18, "y2Offset": 18}, "encoding": {"x": {"field": "grp", "type": "nominal", "sort": ["MLO-Y4", "MLO-A5"], "scale": {"range": [0, 114], "paddingInner": 0.0875, "paddingOuter": 0.0875}, "axis": null}, "y": {"datum": 0}, "y2": {"datum": 0}}},
                  {"mark": {"type": "text", "fontWeight": "bold", "fontSize": 10.5, "yOffset": 30.5, "baseline": "middle"}, "encoding": {"x": {"field": "grp", "type": "nominal", "sort": ["MLO-Y4", "MLO-A5"], "scale": {"range": [0, 114], "paddingInner": 0.0875, "paddingOuter": 0.0875}, "axis": null}, "y": {"datum": 0}, "text": {"field": "grp"}}}
                ]}
              ],
              "resolve": {"scale": {"x": "independent"}}
            },
            {
              "width": 114, "height": 110,
              "layer": [
                {"layer": [
                  {"data": {"name": "c3_bar"}, "mark": "bar", "encoding": {
                    "x": {"field": "id", "type": "ordinal", "scale": {"range": [0, 114], "paddingInner": 0.35, "paddingOuter": 0.35}, "axis": {"title": null, "labelBaseline": "middle", "labelPadding": 8, "labelExpr": "indexof([1,2,5,6], datum.value) >= 0 ? '−' : '+'"}},
                    "y": {"field": "m", "type": "quantitative", "scale": {"domain": [0, 2.02]}, "axis": {"values": [0, 0.5, 1, 1.5, 2], "labels": false, "title": null}},
                    "fill": {"field": "g", "type": "nominal", "scale": {"domain": ["shCtrl", "shCiita"], "range": ["#7db3ea", "#f37c7c"]}, "legend": null}}},
                  {"data": {"name": "c3_bar"}, "mark": "rule", "encoding": {"x": {"field": "id", "type": "ordinal"}, "y": {"field": "lo", "type": "quantitative"}, "y2": {"field": "hi"}}},
                  {"data": {"name": "c3_bar"}, "mark": {"type": "tick", "size": 6}, "encoding": {"x": {"field": "id", "type": "ordinal"}, "y": {"field": "hi", "type": "quantitative"}}},
                  {"data": {"name": "c3_bar"}, "mark": {"type": "tick", "size": 6}, "encoding": {"x": {"field": "id", "type": "ordinal"}, "y": {"field": "lo", "type": "quantitative"}}},
                  {"data": {"name": "c3_pt"}, "mark": {"type": "point", "filled": true, "fill": "white", "stroke": "black", "strokeWidth": 0.9, "size": 18, "opacity": 1}, "encoding": {"x": {"field": "id", "type": "ordinal"}, "y": {"field": "v", "type": "quantitative"}}},
                  {"data": {"name": "c3_br"}, "mark": "rule", "encoding": {"x": {"field": "id", "type": "ordinal"}, "y": {"field": "b", "type": "quantitative"}, "y2": {"field": "t"}}},
                  {"data": {"name": "c3_br"}, "mark": "line", "encoding": {"x": {"field": "id", "type": "ordinal"}, "y": {"field": "t", "type": "quantitative"}, "detail": {"field": "k", "type": "nominal"}}},
                  {"data": {"name": "c3_br"}, "transform": [{"filter": "datum.lab"}], "mark": {"type": "text", "dx": 7, "dy": -3, "baseline": "bottom", "fontSize": 8.5, "color": "#333"}, "encoding": {"x": {"field": "id", "type": "ordinal"}, "y": {"field": "t", "type": "quantitative"}, "text": {"field": "lab"}}},
                  {"data": {"values": [{"id": 4, "gene": "Bglap"}]}, "mark": {"type": "text", "fontStyle": "italic", "fontWeight": "bold", "fontSize": 11, "baseline": "alphabetic", "dx": 8, "dy": 4}, "encoding": {"x": {"field": "id", "type": "ordinal"}, "y": {"datum": 2.02}, "text": {"field": "gene"}}}
                ]},
                {"data": {"values": [{"grp": "MLO-Y4"}, {"grp": "MLO-A5"}]}, "layer": [
                  {"mark": {"type": "bar", "color": "black", "yOffset": 18, "y2Offset": 18}, "encoding": {"x": {"field": "grp", "type": "nominal", "sort": ["MLO-Y4", "MLO-A5"], "scale": {"range": [0, 114], "paddingInner": 0.0875, "paddingOuter": 0.0875}, "axis": null}, "y": {"datum": 0}, "y2": {"datum": 0}}},
                  {"mark": {"type": "text", "fontWeight": "bold", "fontSize": 10.5, "yOffset": 30.5, "baseline": "middle"}, "encoding": {"x": {"field": "grp", "type": "nominal", "sort": ["MLO-Y4", "MLO-A5"], "scale": {"range": [0, 114], "paddingInner": 0.0875, "paddingOuter": 0.0875}, "axis": null}, "y": {"datum": 0}, "text": {"field": "grp"}}}
                ]}
              ],
              "resolve": {"scale": {"x": "independent"}}
            }
          ]
        },
        {
          "bounds": "flush",
          "spacing": 0,
          "resolve": {"scale": {"fill": "independent"}, "legend": {"fill": "independent"}},
          "hconcat": [
            {
              "width": 162, "height": 110,
              "title": {"text": "d", "offset": 9, "dx": -37},
              "layer": [
                {"layer": [
                  {"data": {"name": "d_bar"}, "mark": "bar", "encoding": {
                    "x": {"field": "c", "type": "ordinal", "scale": {"range": [0, 112], "paddingInner": 0.26, "paddingOuter": 0.15}, "axis": {"title": "2DDR", "titleX": -12, "titleY": 13, "titleAlign": "right", "titleBaseline": "middle", "labelBaseline": "middle", "labelPadding": 8, "labelExpr": "datum.value % 2 == 1 ? '−' : '+'"}},
                    "xOffset": {"field": "g", "type": "nominal", "scale": {"domain": ["shCtrl", "shCiita"], "paddingInner": 0.18}},
                    "y": {"field": "m", "type": "quantitative", "scale": {"domain": [0, 6.15]}, "axis": {"values": [0, 2, 4, 6], "title": ["Osteocyte", "Tnfsf11 mRNA"], "titlePadding": 6.8}},
                    "fill": {"field": "g", "type": "nominal", "scale": {"domain": ["shCtrl", "shCiita"], "range": ["#7db3ea", "#f37c7c"]}, "legend": {"title": null, "orient": "none", "legendX": 0, "legendY": -9}}}},
                  {"data": {"name": "d_bar"}, "mark": "rule", "encoding": {"x": {"field": "c", "type": "ordinal"}, "xOffset": {"field": "g", "type": "nominal"}, "y": {"field": "lo", "type": "quantitative"}, "y2": {"field": "hi"}}},
                  {"data": {"name": "d_bar"}, "mark": {"type": "tick", "size": 6}, "encoding": {"x": {"field": "c", "type": "ordinal"}, "xOffset": {"field": "g", "type": "nominal"}, "y": {"field": "hi", "type": "quantitative"}}},
                  {"data": {"name": "d_bar"}, "mark": {"type": "tick", "size": 6}, "encoding": {"x": {"field": "c", "type": "ordinal"}, "xOffset": {"field": "g", "type": "nominal"}, "y": {"field": "lo", "type": "quantitative"}}},
                  {"data": {"name": "d_pt"}, "mark": {"type": "point", "filled": true, "fill": "white", "stroke": "black", "strokeWidth": 0.9, "size": 18, "opacity": 1}, "encoding": {"x": {"field": "c", "type": "ordinal"}, "xOffset": {"field": "g", "type": "nominal"}, "y": {"field": "v", "type": "quantitative"}}},
                  {"data": {"name": "d_br"}, "mark": "rule", "encoding": {"x": {"field": "c", "type": "ordinal"}, "xOffset": {"field": "g", "type": "nominal"}, "y": {"field": "b", "type": "quantitative"}, "y2": {"field": "t"}}},
                  {"data": {"name": "d_br"}, "mark": "line", "encoding": {"x": {"field": "c", "type": "ordinal"}, "xOffset": {"field": "g", "type": "nominal"}, "y": {"field": "t", "type": "quantitative"}, "detail": {"field": "c", "type": "ordinal"}}},
                  {"data": {"name": "d_br"}, "transform": [{"filter": "datum.lab"}], "mark": {"type": "text", "dy": -3, "baseline": "bottom", "fontSize": 8.5, "color": "#333"}, "encoding": {"x": {"field": "c", "type": "ordinal"}, "y": {"field": "t", "type": "quantitative"}, "text": {"field": "lab"}}}
                ]},
                {"data": {"values": [{"grp": "MLO-Y4"}, {"grp": "MLO-A5"}]}, "layer": [
                  {"mark": {"type": "bar", "color": "black", "yOffset": 18, "y2Offset": 18}, "encoding": {"x": {"field": "grp", "type": "nominal", "sort": ["MLO-Y4", "MLO-A5"], "scale": {"range": [0, 112], "paddingInner": 0.13, "paddingOuter": 0.075}, "axis": null}, "y": {"datum": 0}, "y2": {"datum": 0}}},
                  {"mark": {"type": "text", "fontWeight": "bold", "fontSize": 10.5, "yOffset": 29.5, "baseline": "middle"}, "encoding": {"x": {"field": "grp", "type": "nominal", "sort": ["MLO-Y4", "MLO-A5"], "scale": {"range": [0, 112], "paddingInner": 0.13, "paddingOuter": 0.075}, "axis": null}, "y": {"datum": 0}, "text": {"field": "grp"}}}
                ]}
              ],
              "resolve": {"scale": {"x": "independent"}}
            },
            {
              "width": 128, "height": 110,
              "title": {"text": "e", "offset": 2, "dx": -37},
              "layer": [
                {"layer": [
                  {"data": {"name": "e1_bar"}, "mark": "bar", "encoding": {
                    "x": {"field": "id", "type": "ordinal", "scale": {"range": [0, 100], "paddingInner": 0.33, "paddingOuter": 0.2}, "axis": {"title": "2DDR", "titleX": -7, "titleY": 12, "titleAlign": "right", "titleBaseline": "middle", "labelBaseline": "middle", "labelPadding": 8, "labelExpr": "indexof([1,2,5,6], datum.value) >= 0 ? '−' : '+'"}},
                    "y": {"field": "m", "type": "quantitative", "scale": {"domain": [0, 30.3]}, "axis": {"values": [0, 10, 20, 30], "title": ["No. of Multinuclear", "TRAP⁺ cells"], "titlePadding": 1}},
                    "fill": {"field": "g", "type": "nominal", "scale": {"domain": ["shCtrl", "shCiita"], "range": ["#7db3ea", "#f37c7c"]}, "legend": {"title": null, "orient": "none", "direction": "horizontal", "columnPadding": 4, "legendX": 6, "legendY": -16}}}},
                  {"data": {"name": "e1_bar"}, "mark": "rule", "encoding": {"x": {"field": "id", "type": "ordinal"}, "y": {"field": "lo", "type": "quantitative"}, "y2": {"field": "hi"}}},
                  {"data": {"name": "e1_bar"}, "mark": {"type": "tick", "size": 6}, "encoding": {"x": {"field": "id", "type": "ordinal"}, "y": {"field": "hi", "type": "quantitative"}}},
                  {"data": {"name": "e1_bar"}, "mark": {"type": "tick", "size": 6}, "encoding": {"x": {"field": "id", "type": "ordinal"}, "y": {"field": "lo", "type": "quantitative"}}},
                  {"data": {"name": "e1_pt"}, "mark": {"type": "point", "filled": true, "fill": "white", "stroke": "black", "strokeWidth": 0.9, "size": 18, "opacity": 1}, "encoding": {"x": {"field": "id", "type": "ordinal"}, "y": {"field": "v", "type": "quantitative"}}},
                  {"data": {"name": "e1_br"}, "mark": "rule", "encoding": {"x": {"field": "id", "type": "ordinal"}, "y": {"field": "b", "type": "quantitative"}, "y2": {"field": "t"}}},
                  {"data": {"name": "e1_br"}, "mark": "line", "encoding": {"x": {"field": "id", "type": "ordinal"}, "y": {"field": "t", "type": "quantitative"}, "detail": {"field": "k", "type": "nominal"}}},
                  {"data": {"name": "e1_br"}, "transform": [{"filter": "datum.lab"}], "mark": {"type": "text", "dx": 6, "dy": -3, "baseline": "bottom", "fontSize": 8.5, "color": "#333"}, "encoding": {"x": {"field": "id", "type": "ordinal"}, "y": {"field": "t", "type": "quantitative"}, "text": {"field": "lab"}}}
                ]},
                {"data": {"values": [{"grp": "MLO-Y4"}, {"grp": "MLO-A5"}]}, "layer": [
                  {"mark": {"type": "bar", "color": "black", "yOffset": 16, "y2Offset": 16}, "encoding": {"x": {"field": "grp", "type": "nominal", "sort": ["MLO-Y4", "MLO-A5"], "scale": {"range": [0, 100], "paddingInner": 0.0825, "paddingOuter": 0.05}, "axis": null}, "y": {"datum": 0}, "y2": {"datum": 0}}},
                  {"mark": {"type": "text", "fontWeight": "bold", "fontSize": 10.5, "yOffset": 29, "baseline": "middle"}, "encoding": {"x": {"field": "grp", "type": "nominal", "sort": ["MLO-Y4", "MLO-A5"], "scale": {"range": [0, 100], "paddingInner": 0.0825, "paddingOuter": 0.05}, "axis": null}, "y": {"datum": 0}, "text": {"field": "grp"}}}
                ]}
              ],
              "resolve": {"scale": {"x": "independent"}}
            },
            {
              "width": 106, "height": 110,
              "layer": [
                {"layer": [
                  {"data": {"name": "e2_bar"}, "mark": "bar", "encoding": {
                    "x": {"field": "id", "type": "ordinal", "scale": {"range": [0, 53], "paddingInner": 0.33, "paddingOuter": 0.13}, "axis": {"title": null, "labelBaseline": "middle", "labelPadding": 8, "labelExpr": "datum.value <= 2 ? '−' : '+'"}},
                    "y": {"field": "m", "type": "quantitative", "scale": {"domain": [0, 40.4]}, "axis": {"values": [0, 10, 20, 30, 40], "title": null}},
                    "fill": {"field": "g", "type": "nominal", "scale": {"domain": ["siCtrl", "siCiita"], "range": ["#7db3ea", "#f37c7c"]}, "legend": {"title": null, "orient": "none", "direction": "horizontal", "columnPadding": 4, "legendX": -17, "legendY": -16}}}},
                  {"data": {"name": "e2_bar"}, "mark": "rule", "encoding": {"x": {"field": "id", "type": "ordinal"}, "y": {"field": "lo", "type": "quantitative"}, "y2": {"field": "hi"}}},
                  {"data": {"name": "e2_bar"}, "mark": {"type": "tick", "size": 6}, "encoding": {"x": {"field": "id", "type": "ordinal"}, "y": {"field": "hi", "type": "quantitative"}}},
                  {"data": {"name": "e2_bar"}, "mark": {"type": "tick", "size": 6}, "encoding": {"x": {"field": "id", "type": "ordinal"}, "y": {"field": "lo", "type": "quantitative"}}},
                  {"data": {"name": "e2_pt"}, "mark": {"type": "point", "filled": true, "fill": "white", "stroke": "black", "strokeWidth": 0.9, "size": 18, "opacity": 1}, "encoding": {"x": {"field": "id", "type": "ordinal"}, "y": {"field": "v", "type": "quantitative"}}},
                  {"data": {"name": "e2_br"}, "mark": "rule", "encoding": {"x": {"field": "id", "type": "ordinal"}, "y": {"field": "b", "type": "quantitative"}, "y2": {"field": "t"}}},
                  {"data": {"name": "e2_br"}, "mark": "line", "encoding": {"x": {"field": "id", "type": "ordinal"}, "y": {"field": "t", "type": "quantitative"}, "detail": {"field": "k", "type": "nominal"}}},
                  {"data": {"name": "e2_br"}, "transform": [{"filter": "datum.lab"}], "mark": {"type": "text", "dx": 7, "dy": -3, "baseline": "bottom", "fontSize": 8.5, "color": "#333"}, "encoding": {"x": {"field": "id", "type": "ordinal"}, "y": {"field": "t", "type": "quantitative"}, "text": {"field": "lab"}}}
                ]},
                {"data": {"values": [{"grp": "Primary osteocytes"}]}, "layer": [
                  {"mark": {"type": "bar", "color": "black", "yOffset": 16, "y2Offset": 16}, "encoding": {"x": {"field": "grp", "type": "nominal", "scale": {"range": [0, 53], "paddingInner": 0, "paddingOuter": 0.035}, "axis": null}, "y": {"datum": 0}, "y2": {"datum": 0}}},
                  {"mark": {"type": "text", "fontWeight": "bold", "fontSize": 10.5, "yOffset": 24, "baseline": "top", "lineBreak": " ", "lineHeight": 12}, "encoding": {"x": {"field": "grp", "type": "nominal", "scale": {"range": [0, 53], "paddingInner": 0, "paddingOuter": 0.035}, "axis": null}, "y": {"datum": 0}, "text": {"field": "grp"}}}
                ]}
              ],
              "resolve": {"scale": {"x": "independent"}}
            },
            {
              "width": 120, "height": 110,
              "title": {"text": "f", "offset": 13, "dx": -31},
              "layer": [
                {"layer": [
                  {"data": {"name": "f1_bar"}, "mark": "bar", "encoding": {
                    "x": {"field": "id", "type": "ordinal", "scale": {"range": [0, 110], "paddingInner": 0.34, "paddingOuter": 0.2}, "axis": {"title": "2DDR", "titleX": -11, "titleY": 12, "titleAlign": "right", "titleBaseline": "middle", "labelBaseline": "middle", "labelPadding": 8, "labelExpr": "indexof([1,2,5,6], datum.value) >= 0 ? '−' : '+'"}},
                    "y": {"field": "m", "type": "quantitative", "scale": {"domain": [0, 3.03]}, "axis": {"values": [0, 1, 2, 3], "title": "Relative expression", "titlePadding": 1}},
                    "fill": {"field": "g", "type": "nominal", "scale": {"domain": ["shCtrl", "shCiita"], "range": ["#7db3ea", "#f37c7c"]}, "legend": null}}},
                  {"data": {"name": "f1_bar"}, "mark": "rule", "encoding": {"x": {"field": "id", "type": "ordinal"}, "y": {"field": "lo", "type": "quantitative"}, "y2": {"field": "hi"}}},
                  {"data": {"name": "f1_bar"}, "mark": {"type": "tick", "size": 6}, "encoding": {"x": {"field": "id", "type": "ordinal"}, "y": {"field": "hi", "type": "quantitative"}}},
                  {"data": {"name": "f1_bar"}, "mark": {"type": "tick", "size": 6}, "encoding": {"x": {"field": "id", "type": "ordinal"}, "y": {"field": "lo", "type": "quantitative"}}},
                  {"data": {"name": "f1_pt"}, "mark": {"type": "point", "filled": true, "fill": "white", "stroke": "black", "strokeWidth": 0.9, "size": 18, "opacity": 1}, "encoding": {"x": {"field": "id", "type": "ordinal"}, "y": {"field": "v", "type": "quantitative"}}},
                  {"data": {"name": "f1_br"}, "mark": "rule", "encoding": {"x": {"field": "id", "type": "ordinal"}, "y": {"field": "b", "type": "quantitative"}, "y2": {"field": "t"}}},
                  {"data": {"name": "f1_br"}, "mark": "line", "encoding": {"x": {"field": "id", "type": "ordinal"}, "y": {"field": "t", "type": "quantitative"}, "detail": {"field": "k", "type": "nominal"}}},
                  {"data": {"name": "f1_br"}, "transform": [{"filter": "datum.lab"}], "mark": {"type": "text", "dx": 7, "dy": -3, "baseline": "bottom", "fontSize": 8.5, "color": "#333"}, "encoding": {"x": {"field": "id", "type": "ordinal"}, "y": {"field": "t", "type": "quantitative"}, "text": {"field": "lab"}}},
                  {"data": {"values": [{"id": 4, "gene": "Trap"}]}, "mark": {"type": "text", "fontStyle": "italic", "fontWeight": "bold", "fontSize": 11, "baseline": "alphabetic", "dx": 6, "dy": 2}, "encoding": {"x": {"field": "id", "type": "ordinal"}, "y": {"datum": 3.03}, "text": {"field": "gene"}}}
                ]},
                {"data": {"values": [{"grp": "MLO-Y4"}, {"grp": "MLO-A5"}]}, "layer": [
                  {"mark": {"type": "bar", "color": "black", "yOffset": 16, "y2Offset": 16}, "encoding": {"x": {"field": "grp", "type": "nominal", "sort": ["MLO-Y4", "MLO-A5"], "scale": {"range": [0, 110], "paddingInner": 0.085, "paddingOuter": 0.05}, "axis": null}, "y": {"datum": 0}, "y2": {"datum": 0}}},
                  {"mark": {"type": "text", "fontWeight": "bold", "fontSize": 10.5, "yOffset": 28, "baseline": "middle"}, "encoding": {"x": {"field": "grp", "type": "nominal", "sort": ["MLO-Y4", "MLO-A5"], "scale": {"range": [0, 110], "paddingInner": 0.085, "paddingOuter": 0.05}, "axis": null}, "y": {"datum": 0}, "text": {"field": "grp"}}}
                ]}
              ],
              "resolve": {"scale": {"x": "independent"}}
            },
            {
              "width": 122, "height": 110,
              "layer": [
                {"layer": [
                  {"data": {"name": "f2_bar"}, "mark": "bar", "encoding": {
                    "x": {"field": "id", "type": "ordinal", "scale": {"range": [0, 112], "paddingInner": 0.34, "paddingOuter": 0.2}, "axis": {"title": null, "labelBaseline": "middle", "labelPadding": 8, "labelExpr": "indexof([1,2,5,6], datum.value) >= 0 ? '−' : '+'"}},
                    "y": {"field": "m", "type": "quantitative", "scale": {"domain": [0, 3.03]}, "axis": {"values": [0, 1, 2, 3], "labels": false, "title": null}},
                    "fill": {"field": "g", "type": "nominal", "scale": {"domain": ["shCtrl", "shCiita"], "range": ["#7db3ea", "#f37c7c"]}, "legend": {"title": null, "orient": "none", "direction": "horizontal", "columnPadding": 12, "legendX": 2, "legendY": -33}}}},
                  {"data": {"name": "f2_bar"}, "mark": "rule", "encoding": {"x": {"field": "id", "type": "ordinal"}, "y": {"field": "lo", "type": "quantitative"}, "y2": {"field": "hi"}}},
                  {"data": {"name": "f2_bar"}, "mark": {"type": "tick", "size": 6}, "encoding": {"x": {"field": "id", "type": "ordinal"}, "y": {"field": "hi", "type": "quantitative"}}},
                  {"data": {"name": "f2_bar"}, "mark": {"type": "tick", "size": 6}, "encoding": {"x": {"field": "id", "type": "ordinal"}, "y": {"field": "lo", "type": "quantitative"}}},
                  {"data": {"name": "f2_pt"}, "mark": {"type": "point", "filled": true, "fill": "white", "stroke": "black", "strokeWidth": 0.9, "size": 18, "opacity": 1}, "encoding": {"x": {"field": "id", "type": "ordinal"}, "y": {"field": "v", "type": "quantitative"}}},
                  {"data": {"name": "f2_br"}, "mark": "rule", "encoding": {"x": {"field": "id", "type": "ordinal"}, "y": {"field": "b", "type": "quantitative"}, "y2": {"field": "t"}}},
                  {"data": {"name": "f2_br"}, "mark": "line", "encoding": {"x": {"field": "id", "type": "ordinal"}, "y": {"field": "t", "type": "quantitative"}, "detail": {"field": "k", "type": "nominal"}}},
                  {"data": {"name": "f2_br"}, "transform": [{"filter": "datum.lab"}], "mark": {"type": "text", "dx": 7, "dy": -3, "baseline": "bottom", "fontSize": 8.5, "color": "#333"}, "encoding": {"x": {"field": "id", "type": "ordinal"}, "y": {"field": "t", "type": "quantitative"}, "text": {"field": "lab"}}},
                  {"data": {"values": [{"id": 4, "gene": "Calcr"}]}, "mark": {"type": "text", "fontStyle": "italic", "fontWeight": "bold", "fontSize": 11, "baseline": "alphabetic", "dx": 8, "dy": 2}, "encoding": {"x": {"field": "id", "type": "ordinal"}, "y": {"datum": 3.03}, "text": {"field": "gene"}}}
                ]},
                {"data": {"values": [{"grp": "MLO-Y4"}, {"grp": "MLO-A5"}]}, "layer": [
                  {"mark": {"type": "bar", "color": "black", "yOffset": 16, "y2Offset": 16}, "encoding": {"x": {"field": "grp", "type": "nominal", "sort": ["MLO-Y4", "MLO-A5"], "scale": {"range": [0, 112], "paddingInner": 0.085, "paddingOuter": 0.05}, "axis": null}, "y": {"datum": 0}, "y2": {"datum": 0}}},
                  {"mark": {"type": "text", "fontWeight": "bold", "fontSize": 10.5, "yOffset": 28, "baseline": "middle"}, "encoding": {"x": {"field": "grp", "type": "nominal", "sort": ["MLO-Y4", "MLO-A5"], "scale": {"range": [0, 112], "paddingInner": 0.085, "paddingOuter": 0.05}, "axis": null}, "y": {"datum": 0}, "text": {"field": "grp"}}}
                ]}
              ],
              "resolve": {"scale": {"x": "independent"}}
            },
            {
              "width": 110, "height": 110,
              "layer": [
                {"layer": [
                  {"data": {"name": "f3_bar"}, "mark": "bar", "encoding": {
                    "x": {"field": "id", "type": "ordinal", "scale": {"range": [0, 110], "paddingInner": 0.34, "paddingOuter": 0.2}, "axis": {"title": null, "labelBaseline": "middle", "labelPadding": 8, "labelExpr": "indexof([1,2,5,6], datum.value) >= 0 ? '−' : '+'"}},
                    "y": {"field": "m", "type": "quantitative", "scale": {"domain": [0, 3.03]}, "axis": {"values": [0, 1, 2, 3], "labels": false, "title": null}},
                    "fill": {"field": "g", "type": "nominal", "scale": {"domain": ["shCtrl", "shCiita"], "range": ["#7db3ea", "#f37c7c"]}, "legend": null}}},
                  {"data": {"name": "f3_bar"}, "mark": "rule", "encoding": {"x": {"field": "id", "type": "ordinal"}, "y": {"field": "lo", "type": "quantitative"}, "y2": {"field": "hi"}}},
                  {"data": {"name": "f3_bar"}, "mark": {"type": "tick", "size": 6}, "encoding": {"x": {"field": "id", "type": "ordinal"}, "y": {"field": "hi", "type": "quantitative"}}},
                  {"data": {"name": "f3_bar"}, "mark": {"type": "tick", "size": 6}, "encoding": {"x": {"field": "id", "type": "ordinal"}, "y": {"field": "lo", "type": "quantitative"}}},
                  {"data": {"name": "f3_pt"}, "mark": {"type": "point", "filled": true, "fill": "white", "stroke": "black", "strokeWidth": 0.9, "size": 18, "opacity": 1}, "encoding": {"x": {"field": "id", "type": "ordinal"}, "y": {"field": "v", "type": "quantitative"}}},
                  {"data": {"name": "f3_br"}, "mark": "rule", "encoding": {"x": {"field": "id", "type": "ordinal"}, "y": {"field": "b", "type": "quantitative"}, "y2": {"field": "t"}}},
                  {"data": {"name": "f3_br"}, "mark": "line", "encoding": {"x": {"field": "id", "type": "ordinal"}, "y": {"field": "t", "type": "quantitative"}, "detail": {"field": "k", "type": "nominal"}}},
                  {"data": {"name": "f3_br"}, "transform": [{"filter": "datum.lab"}], "mark": {"type": "text", "dx": 7, "dy": -3, "baseline": "bottom", "fontSize": 8.5, "color": "#333"}, "encoding": {"x": {"field": "id", "type": "ordinal"}, "y": {"field": "t", "type": "quantitative"}, "text": {"field": "lab"}}},
                  {"data": {"values": [{"id": 4, "gene": "Ctsk"}]}, "mark": {"type": "text", "fontStyle": "italic", "fontWeight": "bold", "fontSize": 11, "baseline": "alphabetic", "dx": 11, "dy": 2}, "encoding": {"x": {"field": "id", "type": "ordinal"}, "y": {"datum": 3.03}, "text": {"field": "gene"}}}
                ]},
                {"data": {"values": [{"grp": "MLO-Y4"}, {"grp": "MLO-A5"}]}, "layer": [
                  {"mark": {"type": "bar", "color": "black", "yOffset": 16, "y2Offset": 16}, "encoding": {"x": {"field": "grp", "type": "nominal", "sort": ["MLO-Y4", "MLO-A5"], "scale": {"range": [0, 110], "paddingInner": 0.085, "paddingOuter": 0.05}, "axis": null}, "y": {"datum": 0}, "y2": {"datum": 0}}},
                  {"mark": {"type": "text", "fontWeight": "bold", "fontSize": 10.5, "yOffset": 28, "baseline": "middle"}, "encoding": {"x": {"field": "grp", "type": "nominal", "sort": ["MLO-Y4", "MLO-A5"], "scale": {"range": [0, 110], "paddingInner": 0.085, "paddingOuter": 0.05}, "axis": null}, "y": {"datum": 0}, "text": {"field": "grp"}}}
                ]}
              ],
              "resolve": {"scale": {"x": "independent"}}
            }
          ]
        }
      ]
    },
    {
      "bounds": "flush",
      "spacing": 0,
      "resolve": {"scale": {"fill": "independent"}, "legend": {"fill": "independent"}},
      "hconcat": [
        {
          "width": 168, "height": 110,
          "title": {"text": "g", "offset": -5, "dx": -37},
          "layer": [
            {"data": {"name": "g_box"}, "mark": "rule", "encoding": {"x": {"field": "id", "type": "ordinal"}, "y": {"field": "mn", "type": "quantitative"}, "y2": {"field": "mx"}}},
            {"data": {"name": "g_box"}, "mark": "bar", "encoding": {
              "x": {"field": "id", "type": "ordinal", "scale": {"range": [0, 98], "paddingInner": 0.43, "paddingOuter": 0.32, "align": 0.7}, "axis": {"title": "2DDR", "titleX": -11, "titleY": 8, "titleAlign": "right", "titleBaseline": "middle", "labelBaseline": "middle", "labelPadding": 3, "labelExpr": "datum.value <= 2 ? '−' : '+'"}},
              "y": {"field": "q1", "type": "quantitative", "scale": {"domain": [0, 4.1]}, "axis": {"values": [0, 1, 2, 3, 4], "title": ["Osteocyte", "Sost mRNAs"], "titlePadding": 6.8}},
              "y2": {"field": "q3"},
              "fill": {"field": "g", "type": "nominal", "scale": {"domain": ["WT", "Ciita KO"], "range": ["#7db3ea", "#f37c7c"]}, "legend": {"title": null, "orient": "none", "legendX": 7, "legendY": -18}}}},
            {"data": {"name": "g_box"}, "mark": {"type": "bar", "fillOpacity": 0}, "encoding": {"x": {"field": "id", "type": "ordinal"}, "y": {"field": "md", "type": "quantitative"}, "y2": {"field": "md"}}},
            {"data": {"name": "g_box"}, "mark": {"type": "tick", "size": 6}, "encoding": {"x": {"field": "id", "type": "ordinal"}, "y": {"field": "mx", "type": "quantitative"}}},
            {"data": {"name": "g_box"}, "mark": {"type": "tick", "size": 6}, "encoding": {"x": {"field": "id", "type": "ordinal"}, "y": {"field": "mn", "type": "quantitative"}}},
            {"data": {"name": "g_br"}, "mark": "rule", "encoding": {"x": {"field": "id", "type": "ordinal"}, "y": {"field": "b", "type": "quantitative"}, "y2": {"field": "t"}}},
            {"data": {"name": "g_br"}, "mark": "line", "encoding": {"x": {"field": "id", "type": "ordinal"}, "y": {"field": "t", "type": "quantitative"}, "detail": {"field": "k", "type": "nominal"}}},
            {"data": {"name": "g_br"}, "transform": [{"filter": "datum.lab"}], "mark": {"type": "text", "dx": 11.6, "dy": -3, "baseline": "bottom", "fontSize": 8.5, "color": "#333"}, "encoding": {"x": {"field": "id", "type": "ordinal"}, "y": {"field": "t", "type": "quantitative"}, "text": {"field": "lab"}}}
          ]
        },
        {
          "width": 170, "height": 110,
          "title": {"text": "h", "offset": -3, "dx": -53},
          "layer": [
            {"data": {"name": "h_bar"}, "mark": "bar", "encoding": {
              "x": {"field": "id", "type": "ordinal", "scale": {"range": [0, 120], "paddingInner": 0.44, "paddingOuter": 0.44}, "axis": {"title": "2DDR", "titleX": -1, "titleY": 16, "titleAlign": "right", "titleBaseline": "middle", "labelBaseline": "middle", "labelPadding": 12, "labelExpr": "datum.value <= 2 ? '−' : '+'"}},
              "y": {"field": "m", "type": "quantitative", "scale": {"domain": [0, 0.82]}, "axis": {"values": [0, 0.2, 0.4, 0.6, 0.8], "format": ".1f", "title": ["Alizarin red-S", "(OD 490 nm)"], "titlePadding": 1}},
              "fill": {"field": "g", "type": "nominal", "scale": {"domain": ["WT", "Ciita KO"], "range": ["#7db3ea", "#f37c7c"]}, "legend": {"title": null, "orient": "none", "legendX": 10, "legendY": -16}}}},
            {"data": {"name": "h_bar"}, "mark": "rule", "encoding": {"x": {"field": "id", "type": "ordinal"}, "y": {"field": "lo", "type": "quantitative"}, "y2": {"field": "hi"}}},
            {"data": {"name": "h_bar"}, "mark": {"type": "tick", "size": 7}, "encoding": {"x": {"field": "id", "type": "ordinal"}, "y": {"field": "hi", "type": "quantitative"}}},
            {"data": {"name": "h_bar"}, "mark": {"type": "tick", "size": 7}, "encoding": {"x": {"field": "id", "type": "ordinal"}, "y": {"field": "lo", "type": "quantitative"}}},
            {"data": {"name": "h_pt"}, "mark": {"type": "point", "filled": true, "fill": "white", "stroke": "black", "strokeWidth": 0.9, "size": 18, "opacity": 1}, "encoding": {"x": {"field": "id", "type": "ordinal"}, "y": {"field": "v", "type": "quantitative"}}},
            {"data": {"name": "h_br"}, "mark": "rule", "encoding": {"x": {"field": "id", "type": "ordinal"}, "y": {"field": "b", "type": "quantitative"}, "y2": {"field": "t"}}},
            {"data": {"name": "h_br"}, "mark": "line", "encoding": {"x": {"field": "id", "type": "ordinal"}, "y": {"field": "t", "type": "quantitative"}, "detail": {"field": "k", "type": "nominal"}}},
            {"data": {"name": "h_br"}, "transform": [{"filter": "datum.lab"}], "mark": {"type": "text", "dx": 13.5, "dy": -3, "baseline": "bottom", "fontSize": 8.5, "color": "#333"}, "encoding": {"x": {"field": "id", "type": "ordinal"}, "y": {"field": "t", "type": "quantitative"}, "text": {"field": "lab"}}}
          ]
        },
        {
          "width": 160, "height": 110,
          "title": {"text": "i", "offset": -3, "dx": -45},
          "layer": [
            {"data": {"name": "i_box"}, "mark": "rule", "encoding": {"x": {"field": "id", "type": "ordinal"}, "y": {"field": "mn", "type": "quantitative"}, "y2": {"field": "mx"}}},
            {"data": {"name": "i_box"}, "mark": "bar", "encoding": {
              "x": {"field": "id", "type": "ordinal", "scale": {"range": [0, 95], "paddingInner": 0.4, "paddingOuter": 0.22, "align": 0.8}, "axis": {"title": "2DDR", "titleX": 0, "titleY": 14, "titleAlign": "right", "titleBaseline": "middle", "labelBaseline": "middle", "labelPadding": 11, "labelExpr": "datum.value <= 2 ? '−' : '+'"}},
              "y": {"field": "q1", "type": "quantitative", "scale": {"domain": [0, 4.1]}, "axis": {"values": [0, 1, 2, 3, 4], "title": ["Osteocyte", "Tnfsf11 mRNAs"], "titlePadding": 1}},
              "y2": {"field": "q3"},
              "fill": {"field": "g", "type": "nominal", "scale": {"domain": ["WT", "Ciita KO"], "range": ["#7db3ea", "#f37c7c"]}, "legend": {"title": null, "orient": "none", "legendX": 7, "legendY": -16}}}},
            {"data": {"name": "i_box"}, "mark": {"type": "bar", "fillOpacity": 0}, "encoding": {"x": {"field": "id", "type": "ordinal"}, "y": {"field": "md", "type": "quantitative"}, "y2": {"field": "md"}}},
            {"data": {"name": "i_box"}, "mark": {"type": "tick", "size": 6}, "encoding": {"x": {"field": "id", "type": "ordinal"}, "y": {"field": "mx", "type": "quantitative"}}},
            {"data": {"name": "i_box"}, "mark": {"type": "tick", "size": 6}, "encoding": {"x": {"field": "id", "type": "ordinal"}, "y": {"field": "mn", "type": "quantitative"}}},
            {"data": {"name": "i_br"}, "mark": "rule", "encoding": {"x": {"field": "id", "type": "ordinal"}, "y": {"field": "b", "type": "quantitative"}, "y2": {"field": "t"}}},
            {"data": {"name": "i_br"}, "mark": "line", "encoding": {"x": {"field": "id", "type": "ordinal"}, "y": {"field": "t", "type": "quantitative"}, "detail": {"field": "k", "type": "nominal"}}},
            {"data": {"name": "i_br"}, "transform": [{"filter": "datum.lab"}], "mark": {"type": "text", "dx": 11.8, "dy": -3, "baseline": "bottom", "fontSize": 8.5, "color": "#333"}, "encoding": {"x": {"field": "id", "type": "ordinal"}, "y": {"field": "t", "type": "quantitative"}, "text": {"field": "lab"}}}
          ]
        },
        {
          "width": 139, "height": 110,
          "title": {"text": "j", "offset": -5, "dx": -55},
          "layer": [
            {"layer": [
              {"data": {"name": "j1_bar"}, "mark": "bar", "encoding": {
                "x": {"field": "id", "type": "ordinal", "scale": {"range": [0, 110], "paddingInner": 0.44, "paddingOuter": 0.28}, "axis": {"title": "2DDR", "titleX": -16, "titleY": 12, "titleAlign": "right", "titleBaseline": "middle", "labelBaseline": "middle", "labelPadding": 9, "labelExpr": "datum.value <= 2 ? '−' : '+'"}},
                "y": {"field": "m", "type": "quantitative", "scale": {"domain": [0, 15.4]}, "axis": {"values": [0, 5, 10, 15], "title": ["No. of Multinuclear", "TRAP⁺ cells"], "titlePadding": 1}},
                "fill": {"field": "g", "type": "nominal", "scale": {"domain": ["WT", "Ciita KO"], "range": ["#7db3ea", "#f37c7c"]}, "legend": {"title": null, "orient": "none", "legendX": 9, "legendY": -16}}}},
              {"data": {"name": "j1_bar"}, "mark": "rule", "encoding": {"x": {"field": "id", "type": "ordinal"}, "y": {"field": "lo", "type": "quantitative"}, "y2": {"field": "hi"}}},
              {"data": {"name": "j1_bar"}, "mark": {"type": "tick", "size": 7}, "encoding": {"x": {"field": "id", "type": "ordinal"}, "y": {"field": "hi", "type": "quantitative"}}},
              {"data": {"name": "j1_bar"}, "mark": {"type": "tick", "size": 7}, "encoding": {"x": {"field": "id", "type": "ordinal"}, "y": {"field": "lo", "type": "quantitative"}}},
              {"data": {"name": "j1_pt"}, "mark": {"type": "point", "filled": true, "fill": "white", "stroke": "black", "strokeWidth": 0.9, "size": 18, "opacity": 1}, "encoding": {"x": {"field": "id", "type": "ordinal"}, "y": {"field": "v", "type": "quantitative"}}},
              {"data": {"name": "j1_br"}, "mark": "rule", "encoding": {"x": {"field": "id", "type": "ordinal"}, "y": {"field": "b", "type": "quantitative"}, "y2": {"field": "t"}}},
              {"data": {"name": "j1_br"}, "mark": "line", "encoding": {"x": {"field": "id", "type": "ordinal"}, "y": {"field": "t", "type": "quantitative"}, "detail": {"field": "k", "type": "nominal"}}},
              {"data": {"name": "j1_br"}, "transform": [{"filter": "datum.lab"}], "mark": {"type": "text", "dx": 13.3, "dy": -3, "baseline": "bottom", "fontSize": 8.5, "color": "#333"}, "encoding": {"x": {"field": "id", "type": "ordinal"}, "y": {"field": "t", "type": "quantitative"}, "text": {"field": "lab"}}}
            ]},
            {"data": {"values": [{"grp": "RAW264.7"}]}, "layer": [
              {"mark": {"type": "bar", "color": "black", "yOffset": 20, "y2Offset": 20}, "encoding": {"x": {"field": "grp", "type": "nominal", "scale": {"range": [0, 110], "paddingInner": 0, "paddingOuter": 0.079}, "axis": {"orient": "bottom", "labels": false, "ticks": false, "domain": false, "title": ["OC", "precursors"], "titleX": -18, "titleY": 23, "titleAlign": "center", "titleBaseline": "top", "titleLineHeight": 12}}, "y": {"datum": 0}, "y2": {"datum": 0}}},
              {"mark": {"type": "text", "fontWeight": "bold", "fontSize": 10.5, "yOffset": 33, "baseline": "middle"}, "encoding": {"x": {"field": "grp", "type": "nominal", "scale": {"range": [0, 110], "paddingInner": 0, "paddingOuter": 0.079}}, "y": {"datum": 0}, "text": {"field": "grp"}}}
            ]}
          ],
          "resolve": {"scale": {"x": "independent"}}
        },
        {
          "width": 108, "height": 110,
          "layer": [
            {"layer": [
              {"data": {"name": "j2_bar"}, "mark": "bar", "encoding": {
                "x": {"field": "id", "type": "ordinal", "scale": {"range": [0, 108], "paddingInner": 0.44, "paddingOuter": 0.24}, "axis": {"title": null, "labelBaseline": "middle", "labelPadding": 9, "labelExpr": "datum.value <= 2 ? '−' : '+'"}},
                "y": {"field": "m", "type": "quantitative", "scale": {"domain": [0, 30.8]}, "axis": {"values": [0, 10, 20, 30], "title": null}},
                "fill": {"field": "g", "type": "nominal", "scale": {"domain": ["WT", "Ciita KD"], "range": ["#7db3ea", "#f37c7c"]}, "legend": {"title": null, "orient": "none", "legendX": 0, "legendY": -16}}}},
              {"data": {"name": "j2_bar"}, "mark": "rule", "encoding": {"x": {"field": "id", "type": "ordinal"}, "y": {"field": "lo", "type": "quantitative"}, "y2": {"field": "hi"}}},
              {"data": {"name": "j2_bar"}, "mark": {"type": "tick", "size": 7}, "encoding": {"x": {"field": "id", "type": "ordinal"}, "y": {"field": "hi", "type": "quantitative"}}},
              {"data": {"name": "j2_bar"}, "mark": {"type": "tick", "size": 7}, "encoding": {"x": {"field": "id", "type": "ordinal"}, "y": {"field": "lo", "type": "quantitative"}}},
              {"data": {"name": "j2_pt"}, "mark": {"type": "point", "filled": true, "fill": "white", "stroke": "black", "strokeWidth": 0.9, "size": 18, "opacity": 1}, "encoding": {"x": {"field": "id", "type": "ordinal"}, "y": {"field": "v", "type": "quantitative"}}},
              {"data": {"name": "j2_br"}, "mark": "rule", "encoding": {"x": {"field": "id", "type": "ordinal"}, "y": {"field": "b", "type": "quantitative"}, "y2": {"field": "t"}}},
              {"data": {"name": "j2_br"}, "mark": "line", "encoding": {"x": {"field": "id", "type": "ordinal"}, "y": {"field": "t", "type": "quantitative"}, "detail": {"field": "k", "type": "nominal"}}},
              {"data": {"name": "j2_br"}, "transform": [{"filter": "datum.lab"}], "mark": {"type": "text", "dx": 13.4, "dy": -3, "baseline": "bottom", "fontSize": 8.5, "color": "#333"}, "encoding": {"x": {"field": "id", "type": "ordinal"}, "y": {"field": "t", "type": "quantitative"}, "text": {"field": "lab"}}}
            ]},
            {"data": {"values": [{"grp": "Primary monocytes"}]}, "layer": [
              {"mark": {"type": "bar", "color": "black", "yOffset": 20, "y2Offset": 20}, "encoding": {"x": {"field": "grp", "type": "nominal", "scale": {"range": [0, 108], "paddingInner": 0, "paddingOuter": 0.067}, "axis": null}, "y": {"datum": 0}, "y2": {"datum": 0}}},
              {"mark": {"type": "text", "fontWeight": "bold", "fontSize": 10.5, "yOffset": 33, "baseline": "middle"}, "encoding": {"x": {"field": "grp", "type": "nominal", "scale": {"range": [0, 108], "paddingInner": 0, "paddingOuter": 0.067}, "axis": null}, "y": {"datum": 0}, "text": {"field": "grp"}}}
            ]}
          ],
          "resolve": {"scale": {"x": "independent"}}
        }
      ]
    }
  ]
}
